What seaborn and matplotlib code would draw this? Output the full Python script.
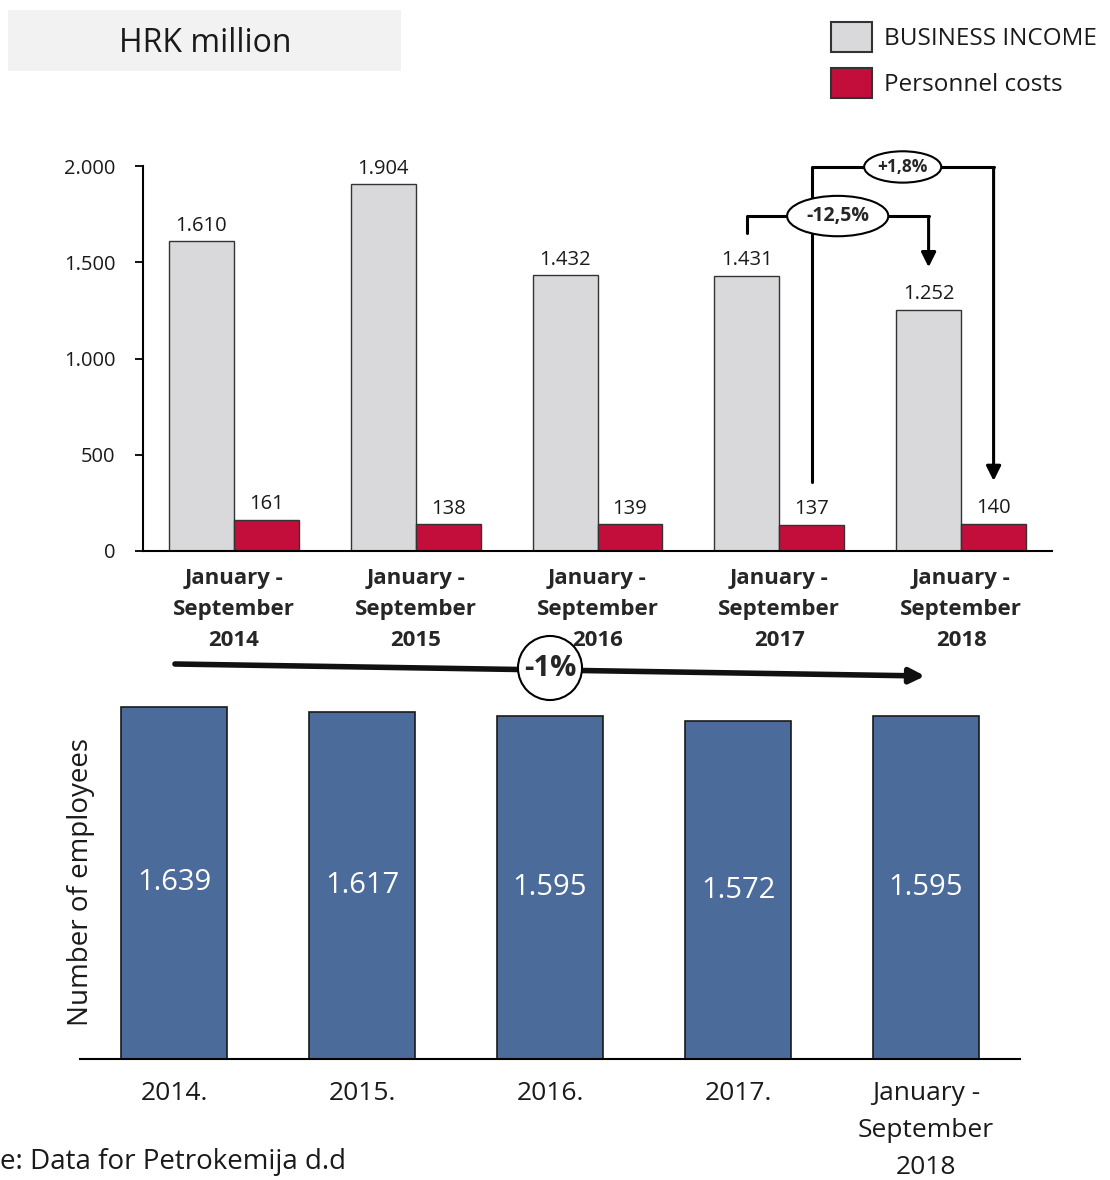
import matplotlib
matplotlib.use("Agg")
import matplotlib.pyplot as plt
from matplotlib.patches import Rectangle
import seaborn as sns
import pandas as pd

# data
periods = ["January -\nSeptember\n2014", "January -\nSeptember\n2015", "January -\nSeptember\n2016",
           "January -\nSeptember\n2017", "January -\nSeptember\n2018"]
business_income = [1610, 1904, 1432, 1431, 1252]
personnel_costs = [161, 138, 139, 137, 140]
series_names = ["BUSINESS INCOME", "Personnel costs"]

emp_labels = ["2014.", "2015.", "2016.", "2017.", "January -\nSeptember\n2018"]
employees = [1639, 1617, 1595, 1572, 1595]

change_income = "-12,5%"
change_costs = "+1,8%"
change_employees = "-1%"

GRAY = "#D9D9DB"
RED = "#C30D3B"
BLUE = "#4B6B9B"
W, H = 1110, 1180


def fmt(v):
    return f"{v:,.0f}".replace(",", ".")


sns.set_theme(style="white")
plt.rcParams["font.family"] = ["Open Sans", "DejaVu Sans"]

df = pd.DataFrame({
    "period": periods * 2,
    "value": business_income + personnel_costs,
    "series": [series_names[0]] * 5 + [series_names[1]] * 5,
})

fig = plt.figure(figsize=(W / 100, H / 100), dpi=100)

# ---------------- top chart ----------------
ax1 = fig.add_axes([143 / W, 1 - 551 / H, (1052 - 143) / W, (551 - 166) / H])
sns.barplot(data=df, x="period", y="value", hue="series", palette=[GRAY, RED], saturation=1,
            width=0.715, edgecolor="#333333", linewidth=1, ax=ax1, legend=False)
ax1.set_xlim(-0.5, 4.5)
ax1.set_ylim(0, 2000)
ax1.set_yticks([0, 500, 1000, 1500, 2000])
ax1.set_yticklabels([fmt(t) for t in [0, 500, 1000, 1500, 2000]], fontsize=14.5, color="#1a1a1a")
ax1.tick_params(axis="y", length=6, width=1.3, color="black", left=True, pad=14)
ax1.tick_params(axis="x", length=0, pad=12)
for lab in ax1.get_xticklabels():
    lab.set_fontweight("bold")
    lab.set_fontsize(16)
    lab.set_linespacing(1.62)
ax1.set_xlabel("")
ax1.set_ylabel("")
for s in ["top", "right"]:
    ax1.spines[s].set_visible(False)
for s in ["left", "bottom"]:
    ax1.spines[s].set_color("black")
    ax1.spines[s].set_linewidth(1.5)

for cont, vals in zip(ax1.containers, [business_income, personnel_costs]):
    ax1.bar_label(cont, labels=[fmt(v) for v in vals], padding=4, fontsize=14.5, color="#1a1a1a")

gx = [p.get_x() + p.get_width() / 2 for p in ax1.containers[0]]
rx = [p.get_x() + p.get_width() / 2 for p in ax1.containers[1]]

# -12,5% bracket (business income 2017 -> 2018)
ax1.plot([gx[3], gx[3], gx[4]], [1652, 1740, 1740], color="black", lw=2.2, clip_on=False)
ax1.annotate("", xy=(gx[4], 1460), xytext=(gx[4], 1742),
             arrowprops=dict(arrowstyle="-|>", color="black", lw=2.2, mutation_scale=22))
# +1,8% bracket (personnel costs 2017 -> 2018)
ax1.plot([rx[3], rx[3], rx[4]], [358, 1995, 1995], color="black", lw=2.2, clip_on=False, zorder=3)
ax1.annotate("", xy=(rx[4], 350), xytext=(rx[4], 1997),
             arrowprops=dict(arrowstyle="-|>", color="black", lw=2.2, mutation_scale=22),
             annotation_clip=False)
ax1.text((gx[3] + gx[4]) / 2, 1740, change_income, ha="center", va="center", fontsize=14,
         fontweight="bold", zorder=6,
         bbox=dict(boxstyle="ellipse,pad=0.22", fc="white", ec="black", lw=1.5))
ax1.text((rx[3] + rx[4]) / 2, 1995, change_costs, ha="center", va="center", fontsize=12.5,
         fontweight="bold", zorder=6, clip_on=False,
         bbox=dict(boxstyle="ellipse,pad=0.12", fc="white", ec="black", lw=1.5))

# ---------------- bottom chart ----------------
ax2 = fig.add_axes([80 / W, 1 - 1059 / H, 940 / W, (1059 - 697) / H])
sns.barplot(x=emp_labels, y=employees, color=BLUE, saturation=1, width=0.56, edgecolor="#1a1a1a",
            linewidth=1.2, ax=ax2)
ax2.set_xlim(-0.5, 4.5)
ax2.set_ylim(0, 1685)
ax2.set_yticks([])
ax2.tick_params(axis="x", length=0, pad=16, labelsize=19, labelcolor="#1a1a1a")
for lab in ax2.get_xticklabels():
    lab.set_linespacing(1.62)
for s in ["top", "right", "left"]:
    ax2.spines[s].set_visible(False)
ax2.spines["bottom"].set_color("black")
ax2.spines["bottom"].set_linewidth(1.5)
ax2.bar_label(ax2.containers[0], labels=[fmt(v) for v in employees], label_type="center",
              color="white", fontsize=21)
ax2.set_ylabel("Number of employees", fontsize=20, color="#1a1a1a")
ax2.yaxis.set_label_coords(0.016, 0.49)

# -1% trend arrow above the bottom chart
ax2.annotate("", xy=(3.995, 1 - 676 / H), xycoords=("data", "figure fraction"),
             xytext=(0.005, 1 - 664 / H), textcoords=("data", "figure fraction"),
             arrowprops=dict(arrowstyle="-|>", color="#111111", lw=4, mutation_scale=22,
                             shrinkA=0, shrinkB=0))
fig.text(550 / W, 1 - 668 / H, change_employees, ha="center", va="center", fontsize=21,
         fontweight="bold", zorder=10,
         bbox=dict(boxstyle="circle,pad=0.2", fc="white", ec="black", lw=1.5))

# ---------------- title box, legend, source ----------------
fig.add_artist(Rectangle((8 / W, 1 - 71 / H), 393 / W, 61 / H, transform=fig.transFigure,
                         fc="#F2F2F2", ec="none"))
fig.text(205 / W, 1 - 43 / H, "HRK million", ha="center", va="center", fontsize=23, color="#1a1a1a")

for i, (name, col) in enumerate(zip(series_names, [GRAY, RED])):
    top = 22 + i * 46
    fig.add_artist(Rectangle((831 / W, 1 - (top + 30) / H), 41 / W, 30 / H,
                             transform=fig.transFigure, fc=col, ec="#333333", lw=1.5))
    fig.text(884 / W, 1 - (top + 17) / H, name, ha="left", va="center", fontsize=17.5, color="#1a1a1a")

fig.text(0, 1 - 1162 / H, "e: Data for Petrokemija d.d", ha="left", va="center", fontsize=20,
         color="#1a1a1a")

fig.savefig("out.png", dpi=100)
